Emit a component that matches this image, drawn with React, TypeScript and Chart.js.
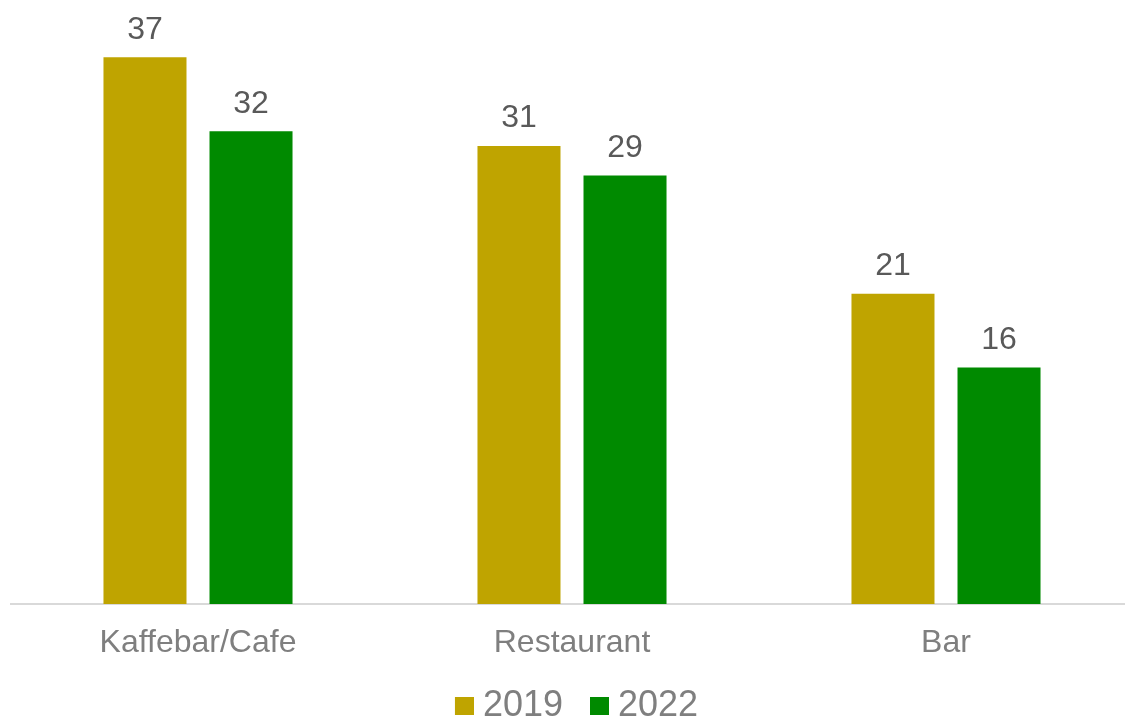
import React, { useEffect, useRef } from "react";
import { Chart, registerables } from "chart.js";

Chart.register(...registerables);

const categories = ["Kaffebar/Cafe", "Restaurant", "Bar"];
const series2019 = [37, 31, 21];
const series2022 = [32, 29, 16];
const seriesNames = ["2019", "2022"];
const colors = ["#BFA400", "#008A00"];

const FONT = "'Liberation Sans', Arial, sans-serif";

// legend marker: 19x18 swatch drawn at the right end of a 44px-wide transparent image
function legendSwatch(color: string) {
  const c = document.createElement("canvas");
  c.width = 44;
  c.height = 18;
  const g = c.getContext("2d")!;
  g.fillStyle = color;
  g.fillRect(25, 0, 19, 18);
  return c;
}

const dataLabelPlugin = {
  id: "dataLabels",
  afterDatasetsDraw(chart: any) {
    const ctx = chart.ctx;
    ctx.save();
    ctx.font = `32px ${FONT}`;
    ctx.fillStyle = "#595959";
    ctx.textAlign = "center";
    ctx.textBaseline = "alphabetic";
    chart.data.datasets.forEach((ds: any, i: number) => {
      const meta = chart.getDatasetMeta(i);
      meta.data.forEach((bar: any, j: number) => {
        ctx.fillText(String(ds.data[j]), bar.x, bar.y - 18.5);
      });
    });
    ctx.restore();
  },
};

export default function App() {
  const ref = useRef<HTMLCanvasElement>(null);
  useEffect(() => {
    document.body.style.margin = "0";
    const canvas = ref.current!;
    const chart = new Chart(canvas, {
      type: "bar",
      data: {
        labels: categories,
        datasets: [
          {
            label: seriesNames[0],
            data: series2019,
            backgroundColor: colors[0],
            pointStyle: legendSwatch(colors[0]),
          },
          {
            label: seriesNames[1],
            data: series2022,
            backgroundColor: colors[1],
            pointStyle: legendSwatch(colors[1]),
          },
        ],
      },
      options: {
        responsive: false,
        animation: false,
        devicePixelRatio: 1,
        layout: { padding: { left: 4, right: 0, top: 13, bottom: 0 } },
        datasets: {
          bar: { barPercentage: 0.783, categoryPercentage: 0.567 },
        },
        scales: {
          x: {
            grid: { display: false, drawTicks: false },
            border: { display: true, color: "#D9D9D9", width: 2 },
            ticks: {
              color: "#7F7F7F",
              font: { family: FONT, size: 32 },
              padding: 19.8,
            },
            afterFit: (scale: any) => {
              scale.height = 73;
            },
          },
          y: {
            display: true,
            position: "left",
            min: 0,
            max: 40,
            grid: { display: false, drawTicks: false },
            border: { display: false },
            ticks: { display: false },
            afterFit: (scale: any) => {
              scale.width = 7;
            },
          },
        },
        plugins: {
          legend: {
            position: "bottom",
            labels: {
              color: "#7F7F7F",
              font: { family: FONT, size: 36 },
              usePointStyle: true,
              pointStyleWidth: 26,
              padding: 11,
            },
          },
          tooltip: { enabled: false },
        },
      },
      plugins: [dataLabelPlugin],
    } as any);
    return () => chart.destroy();
  }, []);
  return (
    <div style={{ width: 1125, height: 719, overflow: "hidden", position: "relative" }}>
      <canvas ref={ref} width={1133} height={734} style={{ display: "block" }} />
    </div>
  );
}
